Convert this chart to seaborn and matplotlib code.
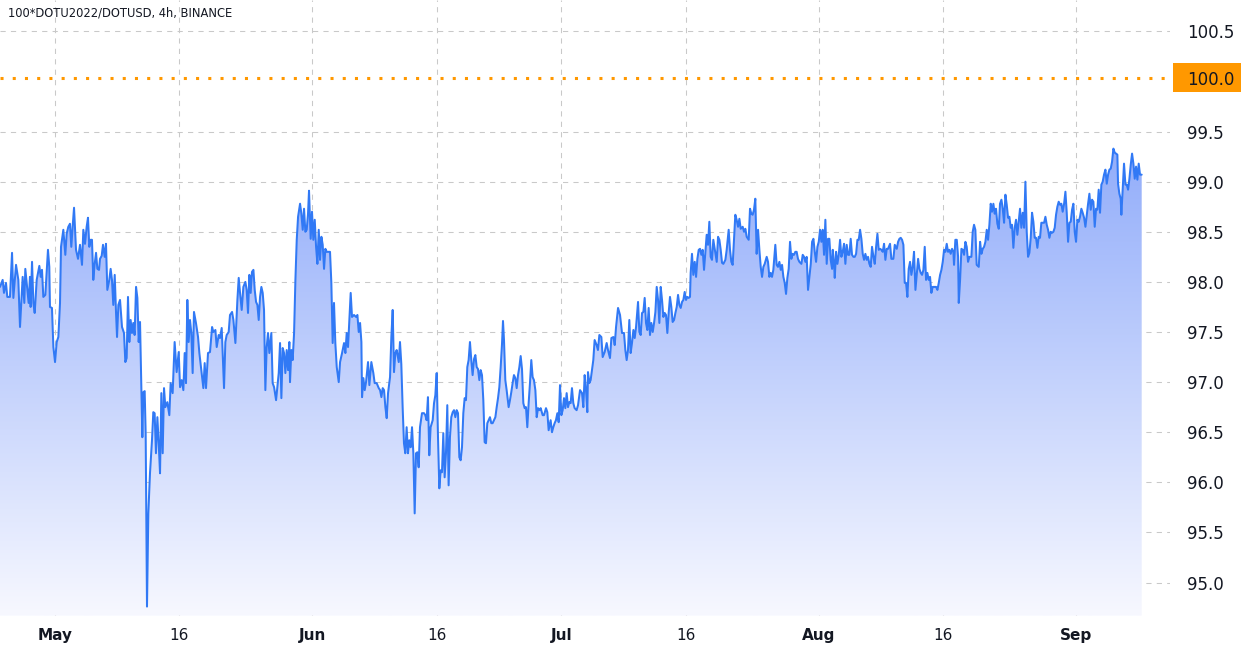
import numpy as np
import pandas as pd
import matplotlib
matplotlib.use("Agg")
import matplotlib.pyplot as plt
import matplotlib.dates as mdates
import matplotlib.transforms as mtransforms
from matplotlib.colors import LinearSegmentedColormap
from matplotlib.patches import Rectangle
import seaborn as sns

# ---------------- data (4h closes) ----------------
START = pd.Timestamp("2022-04-24 09:00")   # days below are offsets from START

days_a = [0.00, 0.32, 0.48, 0.72, 0.88, 1.20, 1.45, 1.61, 1.93, 2.21, 2.41, 2.73, 2.93, 3.05, 3.29, 3.45, 3.61, 3.69,
          3.86, 4.02, 4.18, 4.42, 4.74, 4.90, 5.06, 5.22, 5.46, 5.78, 5.94, 6.02, 6.26, 6.43, 6.63, 6.83, 7.03, 7.23,
          7.35, 7.63, 7.87, 8.03, 8.23, 8.43, 8.59, 8.75, 8.92, 9.16, 9.40, 9.64, 9.88, 10.04, 10.24, 10.44, 10.60,
          10.76, 10.92, 11.08, 11.24, 11.41, 11.57, 11.73, 11.93, 12.05, 12.25, 12.41, 12.61, 12.77, 12.93, 13.17,
          13.33, 13.49, 13.65, 13.82, 13.98, 14.10, 14.26, 14.46, 14.70, 14.94, 15.10, 15.26, 15.42, 15.58, 15.74,
          15.90, 16.06, 16.22, 16.39, 16.55, 16.71, 16.87, 17.03, 17.15, 17.27, 17.43, 17.55, 17.71, 17.87, 18.07,
          18.31, 18.47, 18.63, 18.79, 18.96, 19.12, 19.28, 19.44, 19.60, 19.76, 19.92, 20.16, 20.40, 20.56, 20.80,
          21.04, 21.28, 21.53, 21.69, 21.89, 22.09, 22.25, 22.41, 22.57, 22.73, 22.89, 23.05, 23.21, 23.37, 23.61,
          23.86, 24.02]
price_a = [97.95, 98.02, 97.89, 97.99, 97.85, 97.85, 98.29, 97.84, 98.17, 98.02, 97.55, 98.05, 97.79, 98.13, 97.92,
           97.79, 98.05, 97.75, 98.20, 97.79, 97.69, 98.02, 98.16, 98.05, 98.12, 97.85, 97.87, 98.32, 98.15, 97.75,
           97.74, 97.35, 97.20, 97.40, 97.45, 97.79, 98.35, 98.52, 98.27, 98.48, 98.55, 98.58, 98.35, 98.55, 98.74,
           98.32, 98.23, 98.37, 98.17, 98.52, 98.38, 98.55, 98.64, 98.35, 98.42, 98.42, 98.02, 98.18, 98.29, 98.13,
           98.12, 98.23, 98.26, 98.37, 98.25, 98.38, 97.92, 98.02, 98.13, 98.02, 97.77, 98.07, 97.69, 97.45, 97.77,
           97.82, 97.55, 97.49, 97.20, 97.24, 97.85, 97.40, 97.62, 97.49, 97.59, 97.47, 97.95, 97.84, 97.40, 97.60,
           96.95, 96.45, 96.90, 96.91, 96.49, 94.76, 95.69, 96.09, 96.42, 96.70, 96.69, 96.29, 96.65, 96.39, 96.09,
           96.89, 96.29, 96.94, 96.75, 96.80, 96.67, 96.99, 96.89, 97.40, 97.10, 97.30, 96.95, 97.02, 96.92, 97.29,
           96.99, 97.82, 97.40, 97.62, 97.49, 97.09, 97.70, 97.59, 97.45, 97.29]

days_b = [24.30, 24.50, 24.66, 24.82, 25.06, 25.30, 25.55, 25.71, 25.95, 26.11, 26.35, 26.51, 26.71, 26.83, 26.99,
          27.15, 27.31, 27.55, 27.71, 27.96, 28.12, 28.36, 28.60, 28.76, 28.92, 29.12, 29.32, 29.56, 29.72, 29.88,
          30.04, 30.20, 30.36, 30.53, 30.69, 30.85, 31.01, 31.17, 31.33, 31.49, 31.65, 31.81, 31.97, 32.13, 32.29,
          32.45, 32.69, 32.85, 33.02, 33.26, 33.42, 33.58, 33.74, 33.90, 34.06, 34.22, 34.38, 34.54, 34.70, 34.86,
          34.94, 35.10, 35.26, 35.43, 35.59, 35.75, 35.91, 36.15, 36.31, 36.47, 36.63, 36.79, 36.95, 37.11, 37.23,
          37.43, 37.59, 37.75, 37.92, 38.08, 38.24, 38.40, 38.56, 38.72, 38.88, 39.04, 39.20, 39.36, 39.60, 39.76,
          39.92, 40.08, 40.24, 40.40, 40.57, 40.81, 40.97, 41.21, 41.45, 41.61, 41.77, 41.93, 42.09, 42.25, 42.41,
          42.65, 42.90, 43.06, 43.22, 43.38, 43.54, 43.62, 43.78, 43.94, 44.10, 44.34, 44.50, 44.74, 44.98, 45.14,
          45.38, 45.63, 45.79, 45.95, 46.11, 46.27, 46.43, 46.59, 46.75, 46.99, 47.15, 47.31, 47.47, 47.63, 47.79,
          48.04]
price_b = [97.09, 96.94, 97.19, 96.94, 97.29, 97.30, 97.55, 97.50, 97.52, 97.35, 97.47, 97.44, 97.54, 97.29, 96.94,
           97.40, 97.47, 97.50, 97.67, 97.70, 97.62, 97.39, 97.82, 98.04, 97.89, 97.72, 97.95, 98.00, 97.92, 97.69,
           98.07, 97.89, 98.10, 98.12, 97.92, 97.80, 97.77, 97.62, 97.85, 97.95, 97.89, 97.72, 96.92, 97.35, 97.49,
           97.29, 97.49, 96.99, 96.95, 96.82, 96.95, 97.09, 97.39, 96.84, 97.34, 97.29, 97.09, 97.32, 97.12, 97.40,
           97.00, 97.32, 97.22, 97.49, 98.02, 98.42, 98.65, 98.78, 98.68, 98.52, 98.73, 98.50, 98.52, 98.68, 98.91,
           98.43, 98.70, 98.42, 98.62, 98.35, 98.18, 98.52, 98.22, 98.45, 98.37, 98.13, 98.33, 98.30, 98.30, 98.30,
           97.99, 97.39, 97.79, 97.39, 97.15, 97.00, 97.20, 97.29, 97.39, 97.29, 97.49, 97.35, 97.62, 97.89, 97.65,
           97.67, 97.65, 97.67, 97.50, 97.59, 97.40, 96.85, 97.04, 96.92, 97.00, 97.20, 96.97, 97.20, 97.09, 96.99,
           96.99, 96.94, 96.92, 96.85, 96.94, 96.92, 96.75, 96.64, 96.89, 97.05, 97.45, 97.72, 97.10, 97.29, 97.32,
           97.20]

days_c = [48.19, 48.35, 48.51, 48.67, 48.83, 48.99, 49.15, 49.31, 49.48, 49.64, 49.80, 49.96, 50.12, 50.28, 50.44,
          50.60, 50.84, 51.08, 51.24, 51.40, 51.56, 51.72, 51.88, 52.13, 52.29, 52.45, 52.61, 52.77, 52.93, 53.09,
          53.25, 53.41, 53.57, 53.73, 53.89, 54.05, 54.21, 54.37, 54.54, 54.70, 54.86, 55.02, 55.18, 55.34, 55.50,
          55.66, 55.82, 55.98, 56.14, 56.30, 56.46, 56.62, 56.78, 56.94, 57.11, 57.27, 57.43, 57.59, 57.75, 57.91,
          58.07, 58.23, 58.39, 58.55, 58.71, 58.87, 59.03, 59.19, 59.35, 59.51, 59.68, 59.84, 60.00, 60.16, 60.32,
          60.48, 60.60, 60.72, 60.88, 61.04, 61.28, 61.44, 61.60, 61.76, 61.92, 62.09, 62.25, 62.41, 62.57, 62.73,
          62.89, 63.05, 63.21, 63.37, 63.53, 63.69, 63.85, 64.01, 64.17, 64.33, 64.50, 64.66, 64.82, 64.98, 65.14,
          65.38, 65.54, 65.78, 65.94, 66.10, 66.34, 66.50, 66.66, 66.82, 66.98, 67.15, 67.31, 67.47, 67.63, 67.79,
          67.95, 68.11, 68.27, 68.43, 68.59, 68.75, 68.91, 69.07, 69.23, 69.47, 69.64, 69.88, 70.12, 70.28, 70.44,
          70.60, 70.76, 70.84, 71.00, 71.16, 71.32, 71.48, 71.64, 71.88, 72.04, 72.21]
price_c = [97.40, 97.18, 96.75, 96.39, 96.29, 96.55, 96.29, 96.42, 96.35, 96.55, 96.29, 95.69, 96.29, 96.30, 96.15,
           96.55, 96.69, 96.69, 96.67, 96.62, 96.85, 96.27, 96.55, 96.62, 96.79, 96.87, 97.09, 96.45, 95.94, 96.12,
           96.10, 96.49, 96.05, 96.29, 96.77, 95.97, 96.45, 96.65, 96.70, 96.72, 96.65, 96.72, 96.69, 96.25, 96.22,
           96.35, 96.69, 96.84, 96.82, 97.15, 97.22, 97.40, 97.22, 97.07, 97.23, 97.27, 97.15, 97.13, 97.02, 97.12,
           97.07, 96.82, 96.40, 96.39, 96.59, 96.62, 96.65, 96.59, 96.59, 96.62, 96.65, 96.75, 96.84, 96.95, 97.15,
           97.38, 97.61, 97.42, 97.02, 96.92, 96.75, 96.82, 96.90, 96.99, 97.07, 97.04, 96.94, 97.07, 97.15, 97.26,
           97.13, 96.79, 96.74, 96.75, 96.55, 96.79, 96.99, 97.22, 97.05, 97.02, 96.92, 96.65, 96.74, 96.72, 96.74,
           96.67, 96.67, 96.74, 96.70, 96.52, 96.62, 96.50, 96.55, 96.59, 96.62, 96.69, 96.60, 96.97, 96.67, 96.72,
           96.84, 96.74, 96.89, 96.75, 96.80, 96.79, 96.94, 96.79, 96.74, 96.72, 96.77, 96.92, 96.89, 96.75, 97.07,
           96.92, 96.70, 97.10, 96.99, 97.02, 97.12, 97.22, 97.42, 97.37, 97.32, 97.47]

days_d = [72.45, 72.61, 72.85, 73.09, 73.25, 73.49, 73.66, 73.90, 74.06, 74.22, 74.46, 74.70, 74.94, 75.18, 75.34,
          75.50, 75.66, 75.82, 75.98, 76.14, 76.31, 76.47, 76.63, 76.87, 77.03, 77.19, 77.35, 77.51, 77.67, 77.83,
          77.99, 78.15, 78.31, 78.47, 78.64, 78.80, 78.96, 79.12, 79.28, 79.44, 79.60, 79.76, 79.92, 80.08, 80.24,
          80.40, 80.56, 80.72, 80.88, 81.04, 81.21, 81.37, 81.53, 81.69, 81.85, 82.01, 82.17, 82.33, 82.49, 82.65,
          82.81, 82.97, 83.13, 83.21, 83.37, 83.53, 83.70, 83.86, 84.02, 84.18, 84.34, 84.50, 84.66, 84.82, 84.98,
          85.14, 85.30, 85.46, 85.62, 85.78, 85.94, 86.11, 86.35, 86.51, 86.67, 86.83, 86.99, 87.15, 87.39, 87.55,
          87.79, 87.95, 88.11, 88.27, 88.43, 88.59, 88.75, 88.92, 89.08, 89.24, 89.48, 89.64, 89.80, 89.96, 90.20,
          90.36, 90.52, 90.68, 90.84, 91.00, 91.16, 91.33, 91.49, 91.65, 91.81, 91.97, 92.13, 92.37, 92.53, 92.69,
          92.85, 93.01, 93.17, 93.41, 93.57, 93.73, 93.90, 94.06, 94.22, 94.38, 94.54, 94.70, 94.86, 95.02, 95.18,
          95.34, 95.50, 95.66, 95.82, 95.98, 96.14, 96.31]
price_d = [97.45, 97.25, 97.30, 97.39, 97.32, 97.24, 97.44, 97.45, 97.37, 97.55, 97.74, 97.67, 97.49, 97.49, 97.32,
           97.22, 97.32, 97.62, 97.29, 97.39, 97.52, 97.44, 97.55, 97.80, 97.50, 97.47, 97.69, 97.70, 97.84, 97.59,
           97.52, 97.74, 97.47, 97.59, 97.50, 97.59, 97.70, 97.95, 97.82, 97.59, 97.95, 97.82, 97.65, 97.69, 97.67,
           97.49, 97.69, 97.85, 97.75, 97.60, 97.62, 97.69, 97.75, 97.87, 97.77, 97.74, 97.80, 97.82, 97.90, 97.82,
           97.85, 97.84, 97.85, 98.09, 98.28, 98.07, 98.20, 98.05, 98.23, 98.32, 98.33, 98.27, 98.32, 98.12, 98.30,
           98.47, 98.37, 98.60, 98.25, 98.22, 98.42, 98.33, 98.20, 98.45, 98.42, 98.32, 98.19, 98.18, 98.22, 98.32,
           98.52, 98.32, 98.20, 98.17, 98.42, 98.67, 98.62, 98.55, 98.63, 98.53, 98.55, 98.50, 98.53, 98.45, 98.42,
           98.73, 98.68, 98.67, 98.72, 98.83, 98.28, 98.52, 98.32, 98.15, 98.05, 98.15, 98.18, 98.25, 98.20, 98.05,
           98.09, 98.05, 98.12, 98.37, 98.17, 98.15, 98.20, 98.12, 98.17, 98.05, 97.99, 97.88, 98.04, 98.13, 98.40,
           98.23, 98.28, 98.27, 98.30, 98.30, 98.23, 98.20]

days_e = [96.55, 96.71, 96.87, 97.03, 97.19, 97.35, 97.51, 97.68, 97.84, 98.00, 98.16, 98.32, 98.48, 98.64, 98.80,
          98.96, 99.12, 99.28, 99.44, 99.60, 99.76, 99.92, 100.08, 100.25, 100.33, 100.49, 100.57, 100.73, 100.89,
          101.05, 101.21, 101.37, 101.53, 101.69, 101.85, 102.01, 102.17, 102.33, 102.49, 102.65, 102.82, 102.98,
          103.14, 103.30, 103.46, 103.62, 103.78, 103.94, 104.10, 104.26, 104.42, 104.58, 104.74, 104.90, 105.06,
          105.23, 105.39, 105.55, 105.71, 105.87, 106.03, 106.19, 106.35, 106.51, 106.67, 106.83, 106.99, 107.23,
          107.39, 107.63, 107.80, 108.04, 108.20, 108.36, 108.52, 108.68, 108.84, 109.00, 109.16, 109.32, 109.48,
          109.64, 109.80, 109.96, 110.12, 110.29, 110.45, 110.61, 110.77, 110.93, 111.09, 111.25, 111.41, 111.57,
          111.73, 111.89, 112.05, 112.21, 112.37, 112.53, 112.78, 112.94, 113.10, 113.26, 113.42, 113.58, 113.74,
          113.90, 114.06, 114.22, 114.38, 114.54, 114.70, 114.86, 114.94, 115.10, 115.27, 115.43, 115.51, 115.67,
          115.83, 115.99, 116.15, 116.31, 116.47, 116.63, 116.79, 117.03, 117.19, 117.35, 117.51, 117.67, 117.92,
          118.08, 118.24, 118.40, 118.56, 118.72, 118.88, 119.04, 119.20, 119.36, 119.52, 119.68, 119.84, 120.00,
          120.16, 120.33]
price_e = [98.18, 98.27, 98.25, 98.20, 98.25, 97.92, 98.05, 98.18, 98.40, 98.43, 98.30, 98.20, 98.35, 98.40, 98.52,
           98.40, 98.52, 98.27, 98.62, 98.18, 98.43, 98.43, 98.22, 98.13, 98.32, 98.17, 98.04, 98.30, 98.18, 98.27,
           98.42, 98.25, 98.30, 98.38, 98.18, 98.37, 98.27, 98.27, 98.43, 98.27, 98.25, 98.25, 98.28, 98.42, 98.42,
           98.52, 98.43, 98.28, 98.22, 98.28, 98.22, 98.25, 98.18, 98.15, 98.35, 98.25, 98.18, 98.35, 98.48, 98.32,
           98.33, 98.32, 98.30, 98.38, 98.22, 98.33, 98.33, 98.38, 98.23, 98.23, 98.37, 98.33, 98.40, 98.43, 98.44,
           98.42, 98.37, 97.99, 97.99, 97.85, 98.13, 98.20, 98.07, 98.15, 98.30, 97.92, 98.07, 98.23, 98.13, 98.09,
           98.07, 98.12, 98.35, 98.02, 98.09, 98.02, 98.05, 97.89, 97.95, 97.95, 97.95, 97.92, 97.99, 98.07, 98.12,
           98.20, 98.32, 98.30, 98.38, 98.30, 98.32, 98.28, 98.33, 98.30, 98.17, 98.42, 98.42, 98.25, 97.79, 98.02,
           98.33, 98.32, 98.27, 98.40, 98.35, 98.20, 98.25, 98.25, 98.50, 98.57, 98.52, 98.17, 98.15, 98.40, 98.28,
           98.33, 98.35, 98.40, 98.52, 98.42, 98.57, 98.78, 98.70, 98.78, 98.68, 98.73, 98.58, 98.53]

days_f = [120.48, 120.65, 120.81, 120.97, 121.13, 121.29, 121.45, 121.61, 121.77, 121.93, 122.09, 122.25, 122.41,
          122.57, 122.73, 122.89, 123.05, 123.22, 123.38, 123.54, 123.70, 123.86, 124.02, 124.18, 124.34, 124.50,
          124.66, 124.82, 124.98, 125.14, 125.30, 125.46, 125.63, 125.79, 125.95, 126.11, 126.27, 126.43, 126.59,
          126.75, 126.91, 127.07, 127.23, 127.39, 127.55, 127.71, 127.87, 128.03, 128.20, 128.36, 128.52, 128.68,
          128.84, 129.00, 129.16, 129.32, 129.48, 129.64, 129.80, 129.96, 130.12, 130.28, 130.44, 130.61, 130.77,
          130.93, 131.09, 131.25, 131.41, 131.57, 131.73, 131.89, 132.05, 132.21, 132.37, 132.53, 132.69, 132.85,
          133.01, 133.18, 133.34, 133.50, 133.66, 133.82, 133.98, 134.14, 134.30, 134.46, 134.62, 134.70, 134.86,
          135.02, 135.10, 135.26, 135.42, 135.59, 135.75, 135.91, 136.07, 136.23, 136.39, 136.55, 136.71, 136.87,
          137.03, 137.19, 137.35, 137.55]
price_f = [98.78, 98.82, 98.73, 98.59, 98.87, 98.77, 98.64, 98.65, 98.54, 98.57, 98.34, 98.54, 98.62, 98.47, 98.60,
           98.73, 98.54, 98.69, 98.54, 99.00, 98.50, 98.25, 98.29, 98.44, 98.69, 98.60, 98.44, 98.44, 98.34, 98.45,
           98.44, 98.59, 98.59, 98.59, 98.65, 98.57, 98.52, 98.44, 98.50, 98.49, 98.50, 98.54, 98.67, 98.75, 98.80,
           98.77, 98.78, 98.70, 98.78, 98.90, 98.69, 98.40, 98.59, 98.60, 98.72, 98.78, 98.50, 98.40, 98.62, 98.60,
           98.65, 98.73, 98.69, 98.64, 98.55, 98.67, 98.78, 98.88, 98.72, 98.82, 98.80, 98.55, 98.73, 98.72, 98.92,
           98.69, 98.97, 99.00, 99.07, 99.12, 98.98, 99.07, 99.12, 99.13, 99.20, 99.33, 99.29, 99.28, 99.27, 98.98,
           98.88, 98.83, 98.67, 98.93, 99.18, 98.97, 98.97, 98.92, 99.03, 99.17, 99.28, 99.18, 99.03, 99.15, 99.02,
           99.18, 99.07, 99.07]

ALERT_LEVEL = 100.03
y_ticks = [95.0, 95.5, 96.0, 96.5, 97.0, 97.5, 98.0, 98.5, 99.0, 99.5, 100.5]
tick_dates = ["2022-05-01", "2022-05-16", "2022-06-01", "2022-06-16", "2022-07-01",
              "2022-07-16", "2022-08-01", "2022-08-16", "2022-09-01"]
tick_labels = ["May", "16", "Jun", "16", "Jul", "16", "Aug", "16", "Sep"]
TITLE = "100*DOTU2022/DOTUSD, 4h, BINANCE"

# ---------------- style ----------------
LINE = "#3179f5"
TXT = "#131722"
ORANGE = "#ff9800"
Y_MIN, Y_MAX = 94.669, 100.813
SPAN_DAYS = 140.96

sns.set_theme(style="white")
plt.rcParams["font.family"] = ["DejaVu Sans"]

W, H = 1241, 659
fig = plt.figure(figsize=(W / 100, H / 100), dpi=100)
fig.patch.set_facecolor("white")
ax = fig.add_axes([0, 1 - 615.7 / H, 1170 / W, 615.7 / H])
ax.set_facecolor("white")

days = days_a + days_b + days_c + days_d + days_e + days_f
prices = price_a + price_b + price_c + price_d + price_e + price_f
df = pd.DataFrame({"time": START + pd.to_timedelta(days, unit="D"), "price": prices})

sns.lineplot(data=df, x="time", y="price", ax=ax, color=LINE, linewidth=1.45, zorder=4)

# gradient area under the line
xnum = mdates.date2num(df["time"])
poly = ax.fill_between(xnum, df["price"], Y_MIN, facecolor="none", edgecolor="none")
cmap = LinearSegmentedColormap.from_list("area", ["#f7f8ff", "#92adfa"])
grad = np.linspace(0, 1, 256).reshape(-1, 1)
im = ax.imshow(grad, extent=[xnum[0], xnum[-1], Y_MIN, max(prices)], origin="lower",
               aspect="auto", cmap=cmap, zorder=2, interpolation="bilinear")
im.set_clip_path(poly.get_paths()[0], transform=ax.transData)

x0 = mdates.date2num(START)
ax.set_xlim(x0, x0 + SPAN_DAYS)
ax.set_ylim(Y_MIN, Y_MAX)

# alert line
ax.axhline(ALERT_LEVEL, color=ORANGE, linewidth=2.2, linestyle=(0, (1, 3)), zorder=5)

# grid & axes
ax.set_axisbelow(True)
ax.grid(True, color="#c9c9c9", linestyle=(0, (5, 5)), linewidth=0.75)
for s in ax.spines.values():
    s.set_visible(False)
ax.set_xlabel("")
ax.set_ylabel("")

ax.yaxis.tick_right()
ax.set_yticks(y_ticks)
ax.set_yticklabels([f"{v:.1f}" for v in y_ticks])
ax.tick_params(axis="y", length=0, pad=12.2, labelsize=12, labelcolor=TXT)

ax.set_xticks(mdates.date2num(pd.to_datetime(tick_dates)))
ax.set_xticklabels(tick_labels)
ax.tick_params(axis="x", length=0, pad=9, labelsize=11, labelcolor=TXT)
for lab in ax.get_xticklabels():
    if not lab.get_text().isdigit():
        lab.set_fontweight("bold")

# price-scale label for alert level
fig.patches.append(Rectangle((1173 / W, 1 - 92 / H), 68 / W, 29 / H, transform=fig.transFigure,
                             facecolor=ORANGE, edgecolor="none", zorder=2))
trans = mtransforms.blended_transform_factory(fig.transFigure, ax.transData)
fig.text(1187 / W, ALERT_LEVEL, f"{ALERT_LEVEL:.1f}", transform=trans, ha="left", va="center_baseline",
         fontsize=12, color=TXT, zorder=3)

# title
fig.text(8 / W, 1 - 13.3 / H, TITLE, ha="left", va="center", fontsize=8.3, color=TXT)

fig.savefig("out.png", dpi=100, facecolor="white")
